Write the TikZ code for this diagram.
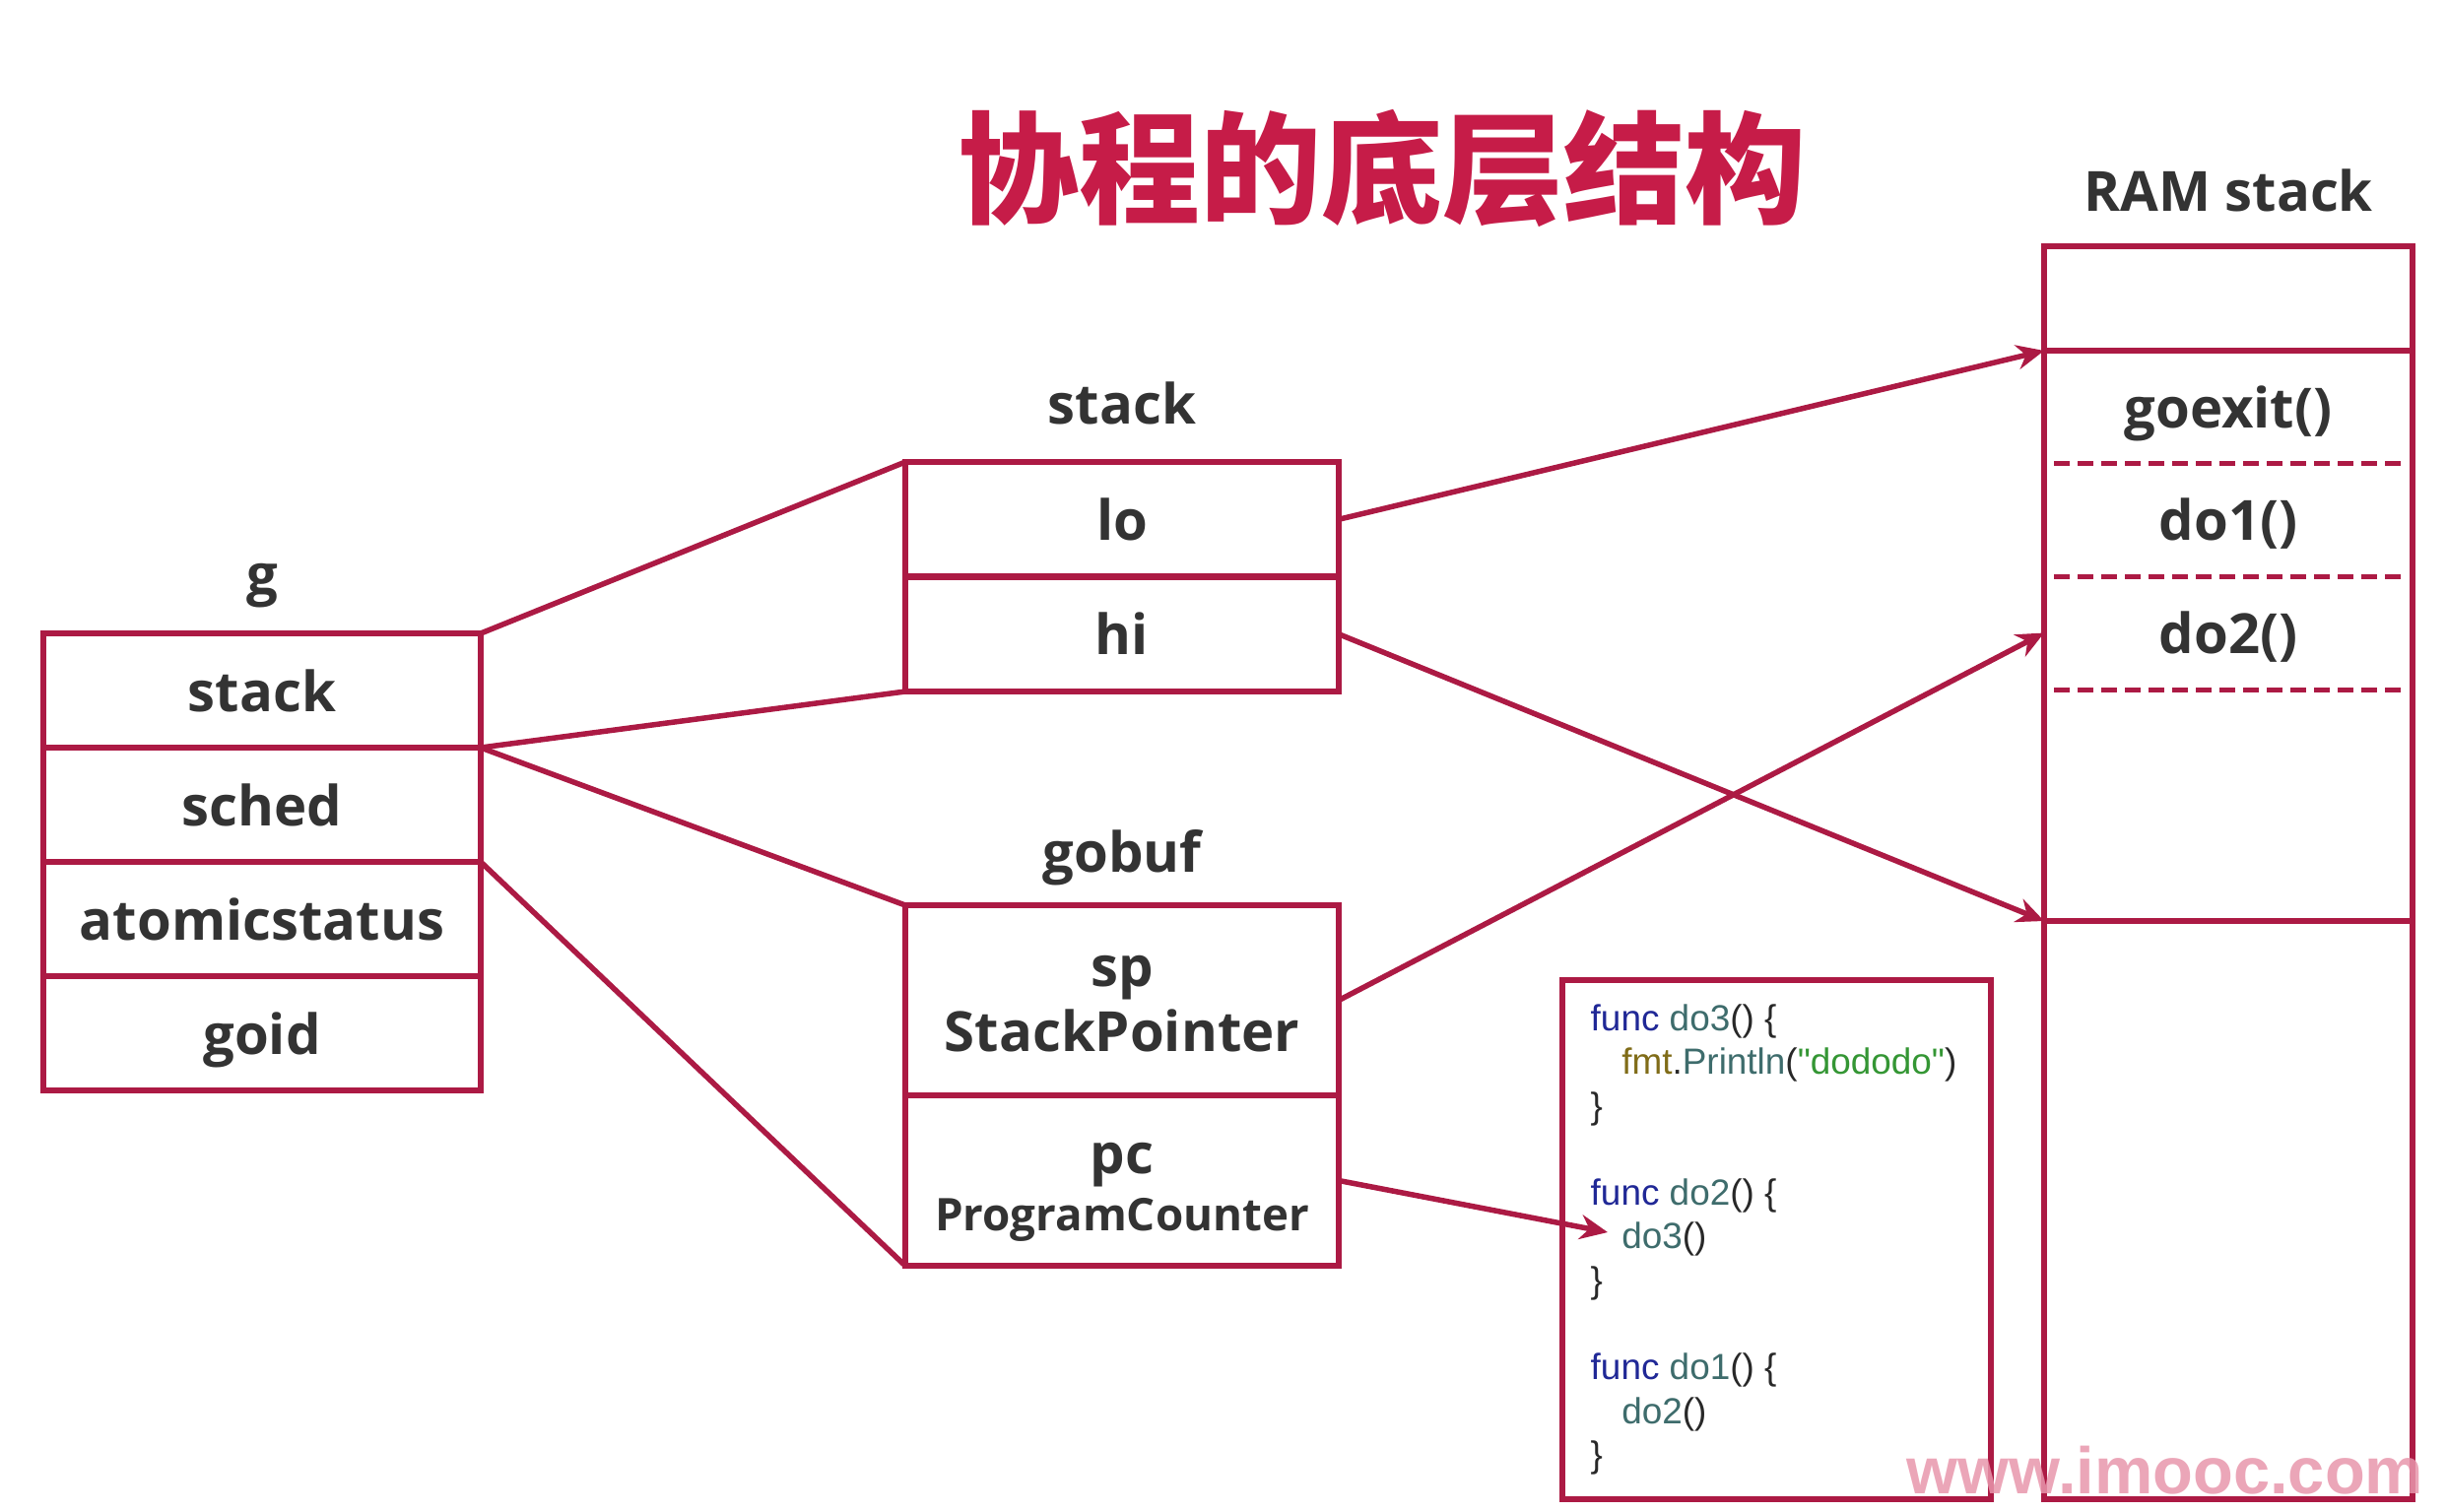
\documentclass[tikz,border=0pt]{standalone}
\usepackage{fontspec}
\setmainfont{Open Sans}
\newfontfamily\cjk{Noto Sans CJK SC}
\newfontfamily\codefont{Liberation Sans}
\usetikzlibrary{arrows.meta,calc,positioning}
\definecolor{gored}{RGB}{172,26,68}
\definecolor{titlered}{RGB}{198,28,72}
\definecolor{lbltext}{RGB}{51,51,51}
\definecolor{codegray}{RGB}{40,40,40}
\definecolor{kwblue}{RGB}{32,40,150}
\definecolor{fnteal}{RGB}{62,108,108}
\definecolor{pkgolive}{RGB}{128,108,24}
\definecolor{strgreen}{RGB}{52,150,52}
\definecolor{markpink}{RGB}{232,150,172}
\newcommand{\kw}[1]{\textcolor{kwblue}{#1}}
\newcommand{\fn}[1]{\textcolor{fnteal}{#1}}
\newcommand{\pkg}[1]{\textcolor{pkgolive}{#1}}
\newcommand{\str}[1]{\textcolor{strgreen}{#1}}

\begin{document}
\begin{tikzpicture}[x=0.1mm,y=-0.1mm,
    font=\bfseries\fontsize{16}{19}\selectfont,text=lbltext,
    cell/.style={draw=gored,line width=.65mm,outer sep=0pt,inner sep=0pt,align=center},
    gcell/.style={cell,minimum width=44.4mm,minimum height=11.6mm,text height=12pt,text depth=0pt},
    scell/.style={cell,minimum width=44mm,minimum height=11.65mm,text height=12pt,text depth=0pt},
    ramcell/.style={outer sep=0pt,inner sep=0pt,minimum width=37.4mm,text height=12pt,text depth=0pt},
    lbl/.style={inner sep=0pt},
    link/.style={gored,line width=.55mm},
    sep/.style={gored,line width=.5mm,dash pattern=on 1.6mm off .8mm},
    ptr/.style={link,-{Stealth[length=2.8mm,width=2.5mm]}}]
  \useasboundingbox (0,0) rectangle (2484,1534);
  \node[lbl,font=\cjk\bfseries\fontsize{35}{40}\selectfont,text=titlered] (title) at (1403,171) {协程的底层结构};
  % g
  \node[gcell,anchor=north west] (gstack) at (44,643) {stack};
  \node[gcell,below=0pt of gstack] (gsched) {sched};
  \node[gcell,below=0pt of gsched] (gstatus) {atomicstatus};
  \node[gcell,below=0pt of gstatus] (goid) {goid};
  \node[lbl] (glbl) at ($(gstack.north)+(0,-48)$) {g};
  % stack
  \node[scell,anchor=north west] (lo) at (919,469) {lo};
  \node[scell,below=0pt of lo] (hi) {hi};
  \node[lbl] (stacklbl) at ($(lo.north)+(0,-60)$) {stack};
  % gobuf
  \node[cell,minimum width=44mm,minimum height=19.3mm,anchor=north west] (sp) at (919,919) {\rule{0pt}{11pt}sp\\StackPointer};
  \node[cell,minimum width=44mm,minimum height=17.3mm,below=0pt of sp,font=\bfseries\fontsize{16}{16.5}\selectfont] (pc) {\rule{0pt}{15.5pt}pc\\{\fontsize{13}{16}\selectfont ProgramCounter}};
  \node[lbl] (gobuflbl) at ($(sp.north)+(0,-48)$) {gobuf};
  % RAM stack
  \node[ramcell,minimum height=10.6mm,anchor=north west] (ramtop) at (2075,250) {};
  \node[ramcell,minimum height=11.4mm,below=0pt of ramtop] (goexit) {goexit()};
  \node[ramcell,minimum height=11.5mm,below=0pt of goexit] (do1) {do1()};
  \node[ramcell,minimum height=11.5mm,below=0pt of do1] (do2) {do2()};
  \node[ramcell,minimum height=23.5mm,below=0pt of do2] (ramfree) {};
  \node[ramcell,minimum height=58.7mm,below=0pt of ramfree] (rambot) {};
  \draw[link,line width=.65mm] (ramtop.north west) rectangle (rambot.south east);
  \draw[link,line width=.65mm] (goexit.north west) -- (goexit.north east);
  \draw[link,line width=.65mm] (rambot.north west) -- (rambot.north east);
  \foreach \r in {do1,do2,ramfree}
    \draw[sep] ([xshift=1mm]\r.north west) -- ([xshift=-1.2mm]\r.north east);
  \node[lbl] (ramlbl) at ($(ramtop.north)+(0,-57)$) {RAM stack};
  % code
  \node[cell,minimum width=43.5mm,minimum height=52.7mm,anchor=north west] (code) at (1586,995) {};
  \node[anchor=north west,inner sep=0pt,align=left,text=codegray,
        font=\codefont\fontsize{10.5}{12.6}\selectfont] (src) at (1614,1019) {%
    \kw{func} \fn{do3}() \{\\
    \hspace*{9pt}\pkg{fmt}.\fn{Println}(\str{"dododo"})\\
    \}\\
    \mbox{}\\
    \kw{func} \fn{do2}() \{\\
    \hspace*{9pt}\fn{do3}()\\
    \}\\
    \mbox{}\\
    \kw{func} \fn{do1}() \{\\
    \hspace*{9pt}\fn{do2}()\\
    \}};
  \coordinate (pcin) at (1632,1251);
  % links
  \draw[link] (gstack.north east) -- (lo.north west);
  \draw[link] (gstack.south east) -- (hi.south west);
  \draw[link] (gstack.south east) -- (sp.north west);
  \draw[link] (gsched.south east) -- (pc.south west);
  \draw[ptr] (lo.east) -- (goexit.north west);
  \draw[ptr] (hi.east) -- (rambot.north west);
  \draw[ptr] (sp.east) -- (do2.west);
  \draw[ptr] (pc.east) -- (pcin);
  \node[anchor=base west,inner sep=0pt,opacity=.85,text=markpink,
        font=\codefont\bfseries\fontsize{19}{19}\selectfont] (mark) at (1935,1516) {www.imooc.com};
\end{tikzpicture}
\end{document}
